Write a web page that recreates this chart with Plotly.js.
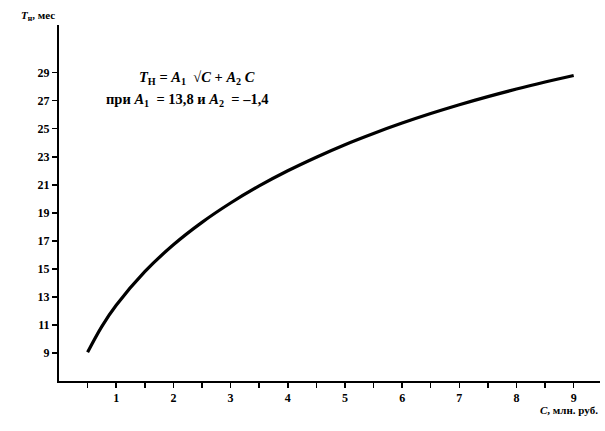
<!DOCTYPE html>
<html><head><meta charset="utf-8">
<script src="https://cdn.plot.ly/plotly-3.0.1.min.js"></script>
<style>html,body{margin:0;padding:0;background:#fff}</style>
</head><body>
<div id="chart" style="width:605px;height:431px"></div>
<script>
// Values
const costC = [0.5, 0.75, 1, 1.5, 2, 2.5, 3, 3.5, 4, 4.5, 5, 5.5, 6, 6.5, 7, 7.5, 8, 8.5, 9];
const termT = [9.05, 10.9, 12.4, 14.8, 16.72, 18.32, 19.7, 20.92, 22.0, 22.97, 23.86, 24.66, 25.4, 26.08, 26.71, 27.29, 27.83, 28.33, 28.8];
const xTickVals = [1, 2, 3, 4, 5, 6, 7, 8, 9];
const xTickText = ['1', '2', '3', '4', '5', '6', '7', '8', '9'];
const yTickVals = [9, 11, 13, 15, 17, 19, 21, 23, 25, 27, 29];
const yTitle = '<i>T</i><sub>н</sub>, мес';
const xTitle = '<i>C</i>, млн. руб.';
const formula1 = '<i>T</i><sub>Н</sub> = <i>A</i><sub>1</sub>  √<i>C</i> + <i>A</i><sub>2</sub> <i>C</i>';
const formula2 = 'при <i>A</i><sub>1</sub>  = 13,8 и <i>A</i><sub>2</sub>  = –1,4';

const font = {family: '"Liberation Serif", "DejaVu Serif", serif', color: '#000'};

Plotly.newPlot('chart', [{
  x: costC, y: termT, type: 'scatter', mode: 'lines',
  line: {color: '#000', width: 3.2, shape: 'spline', smoothing: 1},
  hoverinfo: 'none'
}], {
  width: 605, height: 431,
  margin: {l: 59, r: 5, t: 25, b: 50},
  paper_bgcolor: '#fff', plot_bgcolor: '#fff',
  showlegend: false,
  font: Object.assign({size: 12, weight: 'bold'}, font),
  xaxis: {
    range: [0, 9.46], showgrid: false, zeroline: false,
    showline: true, linecolor: '#000', linewidth: 2,
    tickmode: 'array', tickvals: xTickVals, ticktext: xTickText,
    ticks: 'outside', ticklen: 5, tickwidth: 1.5, tickcolor: '#000',
    minor: {tickmode: 'linear', tick0: 0.5, dtick: 1, ticks: 'outside', ticklen: 5,
            tickwidth: 1.5, tickcolor: '#000', showgrid: false},
    tickfont: Object.assign({size: 12, weight: 'bold'}, font)
  },
  yaxis: {
    range: [7, 32.4], showgrid: false, zeroline: false,
    showline: true, linecolor: '#000', linewidth: 2,
    tickmode: 'array', tickvals: yTickVals,
    ticks: 'outside', ticklen: 5, tickwidth: 1.5, tickcolor: '#000',
    tickfont: Object.assign({size: 12, weight: 'bold'}, font)
  },
  annotations: [
    {xref: 'paper', yref: 'paper', x: 0, y: 1, xanchor: 'right', yanchor: 'bottom',
     xshift: -2, yshift: 0, showarrow: false, text: yTitle,
     font: Object.assign({size: 11, weight: 'bold'}, font)},
    {xref: 'paper', yref: 'paper', x: 1, y: 0, xanchor: 'right', yanchor: 'top',
     yshift: -21, showarrow: false, text: xTitle,
     font: Object.assign({size: 11, weight: 'bold'}, font)},
    {xref: 'x', yref: 'y', x: 2.42, y: 28.6, xanchor: 'center', yanchor: 'middle',
     showarrow: false, text: formula1,
     font: Object.assign({size: 14.5, weight: 'bold'}, font)},
    {xref: 'x', yref: 'y', x: 2.24, y: 27.05, xanchor: 'center', yanchor: 'middle',
     showarrow: false, text: formula2,
     font: Object.assign({size: 14.5, weight: 'bold'}, font)}
  ]
}, {staticPlot: true});
</script>
</body></html>
